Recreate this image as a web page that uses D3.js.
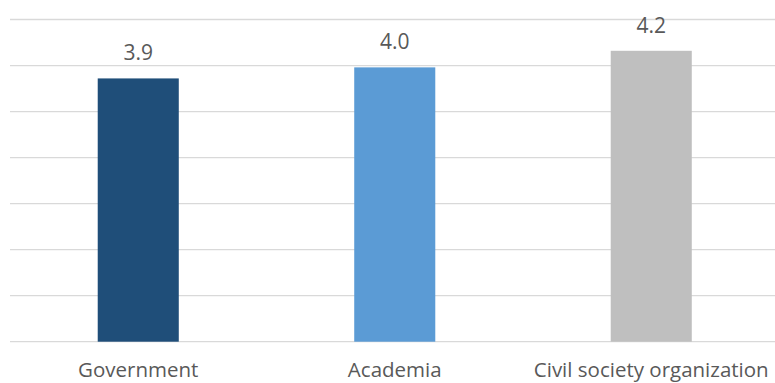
<!DOCTYPE html>
<html>
<head>
    <meta charset="utf-8">
    <script src="https://d3js.org/d3.v7.min.js"></script>
    <style>
        body { margin: 0; background: #fff; }
        text { font-family: "Open Sans", sans-serif; fill: #595959; }
    </style>
</head>
<body>
    <svg width="775" height="383"></svg>
    <script>
    // data
    var categories = ["Government", "Academia", "Civil society organization"];
    var values = [3.86, 3.98, 4.16];
    var valueLabels = ["3.9", "4.0", "4.2"];
    var colors = ["#1F4E79", "#5B9BD5", "#BFBFBF"];
    var yTicks = [1, 1.5, 2, 2.5, 3, 3.5, 4, 4.5];

    var svg = d3.select("svg");

    var x = d3.scaleBand()
        .domain(categories)
        .range([10, 779.5])
        .paddingInner(0.684)
        .paddingOuter(0.342);

    var y = d3.scaleLinear()
        .domain([1, 4.5])
        .range([341.7, 19.5]);

    // gridlines
    svg.append("g")
        .selectAll("line")
        .data(yTicks)
        .enter().append("line")
        .attr("x1", 10)
        .attr("x2", 775)
        .attr("y1", function(d) { return y(d); })
        .attr("y2", function(d) { return y(d); })
        .attr("stroke", "#d9d9d9")
        .attr("stroke-width", 1.3);

    var bars = svg.append("g")
        .selectAll("g")
        .data(categories)
        .enter().append("g");

    bars.append("rect")
        .attr("x", function(d) { return x(d); })
        .attr("width", x.bandwidth())
        .attr("y", function(d, i) { return y(values[i]); })
        .attr("height", function(d, i) { return y(1) - y(values[i]); })
        .attr("fill", function(d, i) { return colors[i]; });

    bars.append("text")
        .attr("x", function(d) { return x(d) + x.bandwidth() / 2; })
        .attr("y", function(d, i) { return y(values[i]) - 18; })
        .attr("text-anchor", "middle")
        .style("font-size", "21px")
        .text(function(d, i) { return valueLabels[i]; });

    // category labels
    svg.append("g")
        .selectAll("text")
        .data(categories)
        .enter().append("text")
        .attr("x", function(d) { return x(d) + x.bandwidth() / 2; })
        .attr("y", 377)
        .attr("text-anchor", "middle")
        .style("font-size", "20.5px")
        .text(function(d) { return d; });
    </script>
</body>
</html>
